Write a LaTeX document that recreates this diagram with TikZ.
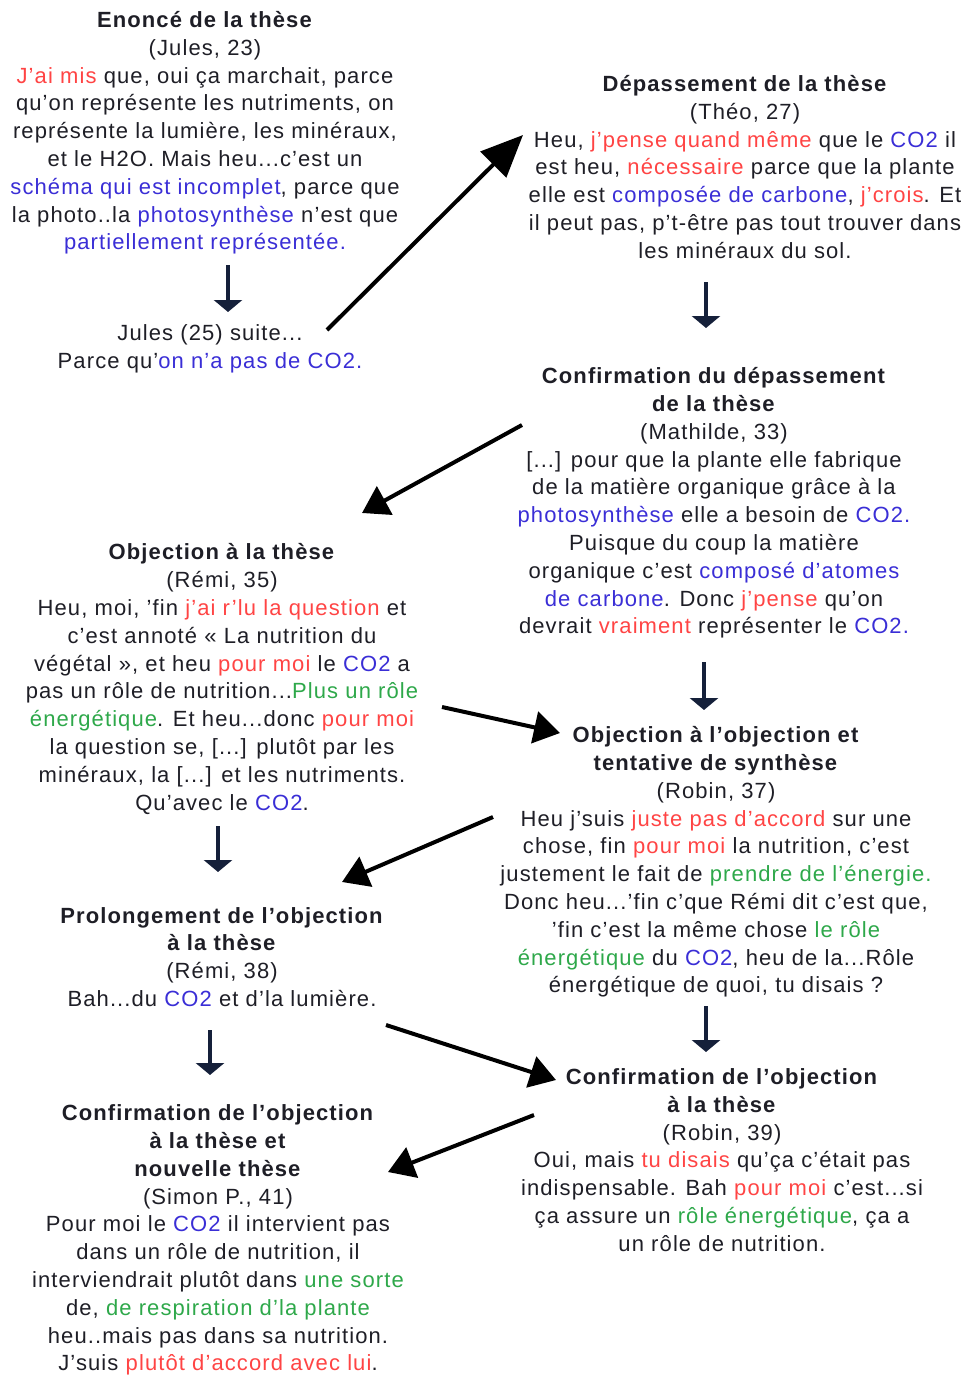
\documentclass[tikz,border=0pt]{standalone}
\usepackage{fontspec}
\setmainfont{Liberation Sans}[LetterSpace=5]
\usetikzlibrary{arrows.meta}
\definecolor{debatred}{HTML}{FF4444}
\definecolor{debatblue}{HTML}{3A2ED6}
\definecolor{debatgreen}{HTML}{2EA84A}
\definecolor{debattext}{HTML}{1E1E26}
\definecolor{debatarrow}{HTML}{15203A}
\newcommand{\hred}[1]{\textcolor{debatred}{#1}}
\newcommand{\hblue}[1]{\textcolor{debatblue}{#1}}
\newcommand{\hgreen}[1]{\textcolor{debatgreen}{#1}}
\tikzset{
  bloc/.style={align=center,inner sep=0pt,text=debattext,font=\fontsize{22}{27.8}\selectfont},
  vertical/.style={-{Triangle[length=12pt,width=28pt]},line width=4.5pt,debatarrow},
  diagonal/.style={-{Triangle[length=26pt,width=32pt]},line width=4pt,black}
}

\begin{document}
\begin{tikzpicture}[x=1pt,y=-1pt]
  \useasboundingbox (0,0) rectangle (964,1376);
  \node[bloc] (these) at (205,133) {
    \textbf{Enoncé de la thèse}\\
    (Jules, 23)\\
    \hred{J'ai mis} que, oui ça marchait, parce\\
    qu'on représente les nutriments, on\\
    représente la lumière, les minéraux,\\
    et le H2O. Mais heu...c'est un\\
    \hblue{schéma qui est incomplet}, parce que\\
    la photo..la \hblue{photosynthèse} n'est que\\
    \hblue{partiellement représentée.}};
  \node[bloc] (suite) at (210,349) {
    Jules (25) suite...\\
    Parce qu'\hblue{on n'a pas de CO2.}};
  \node[bloc] (depassement) at (745,167) {
    \textbf{Dépassement de la thèse}\\
    (Théo, 27)\\
    Heu, \hred{j'pense quand même} que le \hblue{CO2} il\\
    est heu, \hred{nécessaire} parce que la plante\\
    elle est \hblue{composée de carbone}, \hred{j'crois}. Et\\
    il peut pas, p't-être pas tout trouver dans\\
    les minéraux du sol.};
  \node[bloc] (confirmation) at (714,503) {
    \textbf{Confirmation du dépassement}\\
    \textbf{de la thèse}\\
    (Mathilde, 33)\\
    {}[...] pour que la plante elle fabrique\\
    de la matière organique grâce à la\\
    \hblue{photosynthèse} elle a besoin de \hblue{CO2.}\\
    Puisque du coup la matière\\
    organique c'est \hblue{composé d'atomes}\\
    \hblue{de carbone}. Donc \hred{j'pense} qu'on\\
    devrait \hred{vraiment} représenter le \hblue{CO2.}};
  \node[bloc] (objection) at (222,679) {
    \textbf{Objection à la thèse}\\
    (Rémi, 35)\\
    Heu, moi, 'fin \hred{j'ai r'lu la question} et\\
    c'est annoté « La nutrition du\\
    végétal », et heu \hred{pour moi} le \hblue{CO2} a\\
    pas un rôle de nutrition...\hgreen{Plus un rôle}\\
    \hgreen{énergétique}. Et heu...donc \hred{pour moi}\\
    la question se, [...] plutôt par les\\
    minéraux, la [...] et les nutriments.\\
    Qu'avec le \hblue{CO2}.};
  \node[bloc] (objobj) at (716,862) {
    \textbf{Objection à l’objection et}\\
    \textbf{tentative de synthèse}\\
    (Robin, 37)\\
    Heu j'suis \hred{juste pas d'accord} sur une\\
    chose, fin \hred{pour moi} la nutrition, c'est\\
    justement le fait de \hgreen{prendre de l'énergie.}\\
    Donc heu...'fin c'que Rémi dit c'est que,\\
    'fin c'est la même chose \hgreen{le rôle}\\
    \hgreen{énergétique} du \hblue{CO2}, heu de la...Rôle\\
    énergétique de quoi, tu disais ?};
  \node[bloc] (prolong) at (222,957) {
    \textbf{Prolongement de l’objection}\\
    \textbf{à la thèse}\\
    (Rémi, 38)\\
    Bah...du \hblue{CO2} et d'la lumière.};
  \node[bloc] (confobj) at (722,1160) {
    \textbf{Confirmation de l’objection}\\
    \textbf{à la thèse}\\
    (Robin, 39)\\
    Oui, mais \hred{tu disais} qu'ça c'était pas\\
    indispensable. Bah \hred{pour moi} c'est...si\\
    ça assure un \hgreen{rôle énergétique}, ça a\\
    un rôle de nutrition.};
  \node[bloc] (nouvelle) at (218,1240) {
    \textbf{Confirmation de l’objection}\\
    \textbf{à la thèse et}\\
    \textbf{nouvelle thèse}\\
    (Simon P., 41)\\
    Pour moi le \hblue{CO2} il intervient pas\\
    dans un rôle de nutrition, il\\
    interviendrait plutôt dans \hgreen{une sorte}\\
    de, \hgreen{de respiration d'la plante}\\
    heu..mais pas dans sa nutrition.\\
    J'suis \hred{plutôt d'accord avec lui}.};
  % fleches verticales
  \draw[vertical] ([shift={(23,132)}]these.center) -- ([shift={(18,-37)}]suite.center);
  \draw[vertical] ([shift={(-39,115)}]depassement.center) -- ([shift={(-8,-175)}]confirmation.center);
  \draw[vertical] ([shift={(-10,159)}]confirmation.center) -- ([shift={(-12,-152)}]objobj.center);
  \draw[vertical] ([shift={(-4,147)}]objection.center) -- ([shift={(-4,-85)}]prolong.center);
  \draw[vertical] ([shift={(-10,144)}]objobj.center) -- ([shift={(-16,-108)}]confobj.center);
  \draw[vertical] ([shift={(-12,73)}]prolong.center) -- ([shift={(-8,-165)}]nouvelle.center);
  % fleches diagonales
  \draw[diagonal,-{Triangle[length=42pt,width=36pt]}] ([shift={(117,-19)}]suite.center) -- ([shift={(-222,-32)}]depassement.center);
  \draw[diagonal] ([shift={(-192,-78)}]confirmation.center) -- ([shift={(140,-166)}]objection.center);
  \draw[diagonal] ([shift={(220,28)}]objection.center) -- ([shift={(-156,-129)}]objobj.center);
  \draw[diagonal] ([shift={(-223,-45)}]objobj.center) -- ([shift={(120,-75)}]prolong.center);
  \draw[diagonal] ([shift={(164,68)}]prolong.center) -- ([shift={(-166,-80)}]confobj.center);
  \draw[diagonal] ([shift={(-188,-45)}]confobj.center) -- ([shift={(170,-68)}]nouvelle.center);
\end{tikzpicture}
\end{document}
